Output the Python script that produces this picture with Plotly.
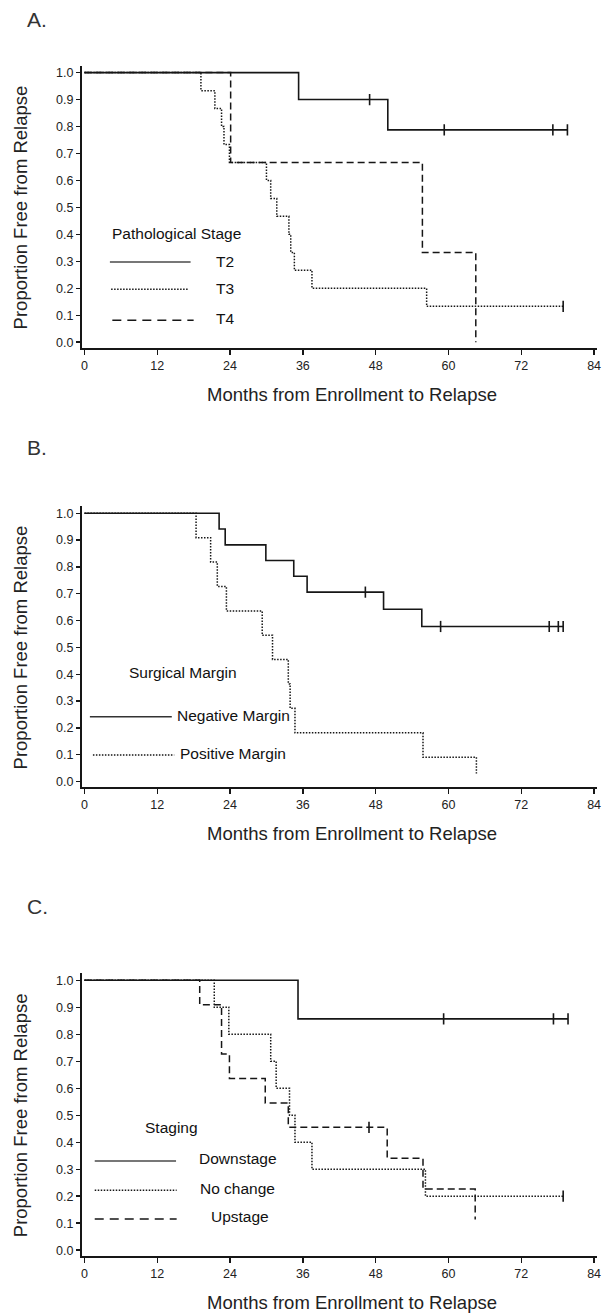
import plotly.graph_objects as go

W, H = 606, 1316

# ---------------- data ----------------
months_ticks = [0, 12, 24, 36, 48, 60, 72, 84]
prop_ticks = [0.0, 0.1, 0.2, 0.3, 0.4, 0.5, 0.6, 0.7, 0.8, 0.9, 1.0]

# Panel A: Pathological Stage
a_t2_times = [35.3, 50.0]
a_t2_surv = [0.9, 0.7875]
a_t2_end = 79.7
a_t2_cens = [47.0, 59.3, 77.2, 79.6]

a_t3_times = [19.2, 21.5, 22.6, 23.0, 23.9, 30.0, 30.7, 31.7, 33.7, 34.0, 34.6, 37.5, 56.4]
a_t3_surv = [0.933, 0.867, 0.8, 0.733, 0.667, 0.6, 0.533, 0.467, 0.4, 0.333, 0.267, 0.2, 0.133]
a_t3_end = 78.9
a_t3_cens = [78.9]

a_t4_times = [24.1, 55.7, 64.5]
a_t4_surv = [0.667, 0.333, 0.0]
a_t4_end = 64.5
a_t4_cens = []

# Panel B: Surgical Margin
b_neg_times = [22.2, 23.2, 29.9, 34.5, 36.7, 49.3, 55.6]
b_neg_surv = [0.941, 0.882, 0.824, 0.765, 0.706, 0.642, 0.578]
b_neg_end = 78.9
b_neg_cens = [46.3, 58.7, 76.6, 78.1, 78.9]

b_pos_times = [18.4, 20.8, 21.9, 23.4, 29.3, 31.0, 33.6, 33.9, 34.7, 55.8, 64.6]
b_pos_surv = [0.909, 0.818, 0.727, 0.636, 0.545, 0.455, 0.364, 0.273, 0.182, 0.091, 0.03]
b_pos_end = 64.6
b_pos_cens = []

# Panel C: Staging
c_down_times = [35.2]
c_down_surv = [0.857]
c_down_end = 79.7
c_down_cens = [59.2, 77.3, 79.7]

c_noch_times = [21.4, 23.8, 30.7, 31.6, 33.8, 34.7, 37.5, 56.2]
c_noch_surv = [0.9, 0.8, 0.7, 0.6, 0.5, 0.4, 0.3, 0.2]
c_noch_end = 78.9
c_noch_cens = [78.9]

c_up_times = [19.0, 22.6, 23.9, 29.8, 33.6, 49.9, 55.8, 64.4]
c_up_surv = [0.909, 0.727, 0.636, 0.545, 0.455, 0.341, 0.227, 0.114]
c_up_end = 64.4
c_up_cens = [46.9]

panel_letters = ["A.", "B.", "C."]
legend_titles = ["Pathological Stage", "Surgical Margin", "Staging"]
legend_labels = [["T2", "T3", "T4"],
                 ["Negative Margin", "Positive Margin"],
                 ["Downstage", "No change", "Upstage"]]
x_title = "Months from Enrollment to Relapse"
y_title = "Proportion Free from Relapse"

# ---------------- styles ----------------
INK = "#161616"
SOLID = dict(color=INK, width=1.6, dash="solid")
DOT = dict(color=INK, width=1.5, dash="1.5px,1.5px")
DASH = dict(color=INK, width=1.5, dash="7px,4px")

SANS = "Liberation Sans, Arial, sans-serif"
TICK_FONT = dict(family=SANS, size=12.5, color="#222")
TITLE_FONT = dict(family=SANS, size=18.5, color="#222")
LEG_FONT = dict(family=SANS, size=15.5, color="#111")

# panel pixel geometry (top, bottom) of plotting areas
PX_LEFT, PX_RIGHT = 81.8, 601.5
panels_px = [(65.7, 348.1), (507.0, 788.2), (974.7, 1257.5)]
xtitle_px = [395, 835, 1304]
XR = [-0.4, 84.4]
YR = [-0.02, 1.026]


def km_xy(times, surv, end):
    xs = [0.0] + list(times) + [end]
    ys = [1.0] + list(surv) + [surv[-1]]
    return xs, ys


def surv_at(t, times, surv):
    s = 1.0
    for ti, si in zip(times, surv):
        if ti <= t:
            s = si
    return s


fig = go.Figure()

series = [
    [(a_t3_times, a_t3_surv, a_t3_end, a_t3_cens, DOT),
     (a_t4_times, a_t4_surv, a_t4_end, a_t4_cens, DASH),
     (a_t2_times, a_t2_surv, a_t2_end, a_t2_cens, SOLID)],
    [(b_pos_times, b_pos_surv, b_pos_end, b_pos_cens, DOT),
     (b_neg_times, b_neg_surv, b_neg_end, b_neg_cens, SOLID)],
    [(c_noch_times, c_noch_surv, c_noch_end, c_noch_cens, DOT),
     (c_up_times, c_up_surv, c_up_end, c_up_cens, DASH),
     (c_down_times, c_down_surv, c_down_end, c_down_cens, SOLID)],
]

for i, group in enumerate(series):
    xa = "x" if i == 0 else f"x{i+1}"
    ya = "y" if i == 0 else f"y{i+1}"
    for times, surv, end, cens, style in group:
        xs, ys = km_xy(times, surv, end)
        fig.add_trace(go.Scatter(x=xs, y=ys, mode="lines", line=style,
                                 line_shape="hv", xaxis=xa, yaxis=ya,
                                 showlegend=False, hoverinfo="skip"))
        if cens:
            fig.add_trace(go.Scatter(
                x=cens, y=[surv_at(c, times, surv) for c in cens],
                mode="markers", xaxis=xa, yaxis=ya, showlegend=False,
                marker=dict(symbol="line-ns", size=8,
                            line=dict(color=INK, width=1.6)),
                hoverinfo="skip"))

layout = dict(width=W, height=H, margin=dict(l=0, r=0, t=0, b=0),
              paper_bgcolor="white", plot_bgcolor="white", showlegend=False)

annotations = []
shapes = []

for i, (top, bot) in enumerate(panels_px):
    sfx = "" if i == 0 else str(i + 1)
    layout["xaxis" + sfx] = dict(
        domain=[PX_LEFT / W, PX_RIGHT / W], range=XR, anchor="y" + sfx,
        tickvals=months_ticks, ticks="outside", ticklen=5, tickwidth=1.4,
        tickcolor=INK, showline=True, linewidth=2, linecolor=INK,
        showgrid=False, zeroline=False, tickfont=TICK_FONT, fixedrange=True,
        ticklabeloverflow="allow")
    layout["yaxis" + sfx] = dict(
        domain=[1 - bot / H, 1 - top / H], range=YR, anchor="x" + sfx,
        tickvals=prop_ticks, tickformat=".1f", ticks="outside", ticklen=4,
        tickwidth=1.4, tickcolor=INK, showline=True, linewidth=2,
        linecolor=INK, showgrid=False, zeroline=False, tickfont=TICK_FONT,
        fixedrange=True, ticklabeloverflow="allow")
    # axis titles
    annotations.append(dict(text=x_title, xref="paper", yref="paper",
                            x=355 / W, y=1 - xtitle_px[i] / H,
                            xanchor="center", yanchor="middle",
                            showarrow=False, font=TITLE_FONT))
    annotations.append(dict(text=y_title, xref="paper", yref="paper",
                            x=20 / W, y=1 - ((top + bot) / 2 + 1) / H,
                            xanchor="center", yanchor="middle", textangle=-90,
                            showarrow=False, font=TITLE_FONT))

# panel letters
for letter, ypx in zip(panel_letters, [20, 448, 908]):
    annotations.append(dict(text=letter, xref="paper", yref="paper",
                            x=24 / W, y=1 - ypx / H, xanchor="left",
                            yanchor="middle", showarrow=False,
                            font=dict(family=SANS, size=21, color="#333")))

# in-plot legends (position/style only)
LEG_SOLID = dict(color="#777", width=2)
LEG_SOLID_B = dict(color="#333", width=1.5)
LEG_DOT = dict(color=INK, width=1.5, dash="1.5px,1.5px")
LEG_DASH = dict(color=INK, width=1.5, dash="9px,6px")

legend_specs = [
    dict(title=(15.1, 0.405),
         items=[((4.2, 17.5, 0.297), LEG_SOLID, (23.1, 0.300)),
                ((4.4, 17.2, 0.196), LEG_DOT, (23.1, 0.200)),
                ((4.6, 18.0, 0.081), LEG_DASH, (23.1, 0.087))]),
    dict(title=(16.3, 0.407),
         items=[((0.9, 14.4, 0.242), LEG_SOLID_B, (24.5, 0.248)),
                ((1.4, 14.8, 0.099), LEG_DOT, (24.5, 0.103))]),
    dict(title=(14.3, 0.454),
         items=[((1.7, 15.1, 0.330), LEG_SOLID, (25.3, 0.338)),
                ((1.7, 15.2, 0.222), LEG_DOT, (25.2, 0.230)),
                ((1.7, 15.2, 0.116), LEG_DASH, (25.6, 0.125))]),
]

for i, spec in enumerate(legend_specs):
    xa = "x" if i == 0 else f"x{i+1}"
    ya = "y" if i == 0 else f"y{i+1}"
    tx, ty = spec["title"]
    annotations.append(dict(text=legend_titles[i], xref=xa, yref=ya, x=tx,
                            y=ty, xanchor="center", yanchor="middle",
                            showarrow=False, font=LEG_FONT))
    for lab, ((x0, x1, ly), lstyle, (lx, lty)) in zip(legend_labels[i],
                                                       spec["items"]):
        shapes.append(dict(type="line", xref=xa, yref=ya, x0=x0, x1=x1,
                           y0=ly, y1=ly, line=lstyle))
        annotations.append(dict(text=lab, xref=xa, yref=ya, x=lx, y=lty,
                                xanchor="center", yanchor="middle",
                                showarrow=False, font=LEG_FONT))

layout["annotations"] = annotations
layout["shapes"] = shapes
fig.update_layout(**layout)

# remove the default page margin so the 606x1316 figure fills the window
fig.write_html(
    "out.html",
    config={"displayModeBar": False, "staticPlot": True},
    post_script="document.body.style.margin='0px';"
                "document.body.style.padding='0px';"
                "document.body.style.overflow='hidden';")
